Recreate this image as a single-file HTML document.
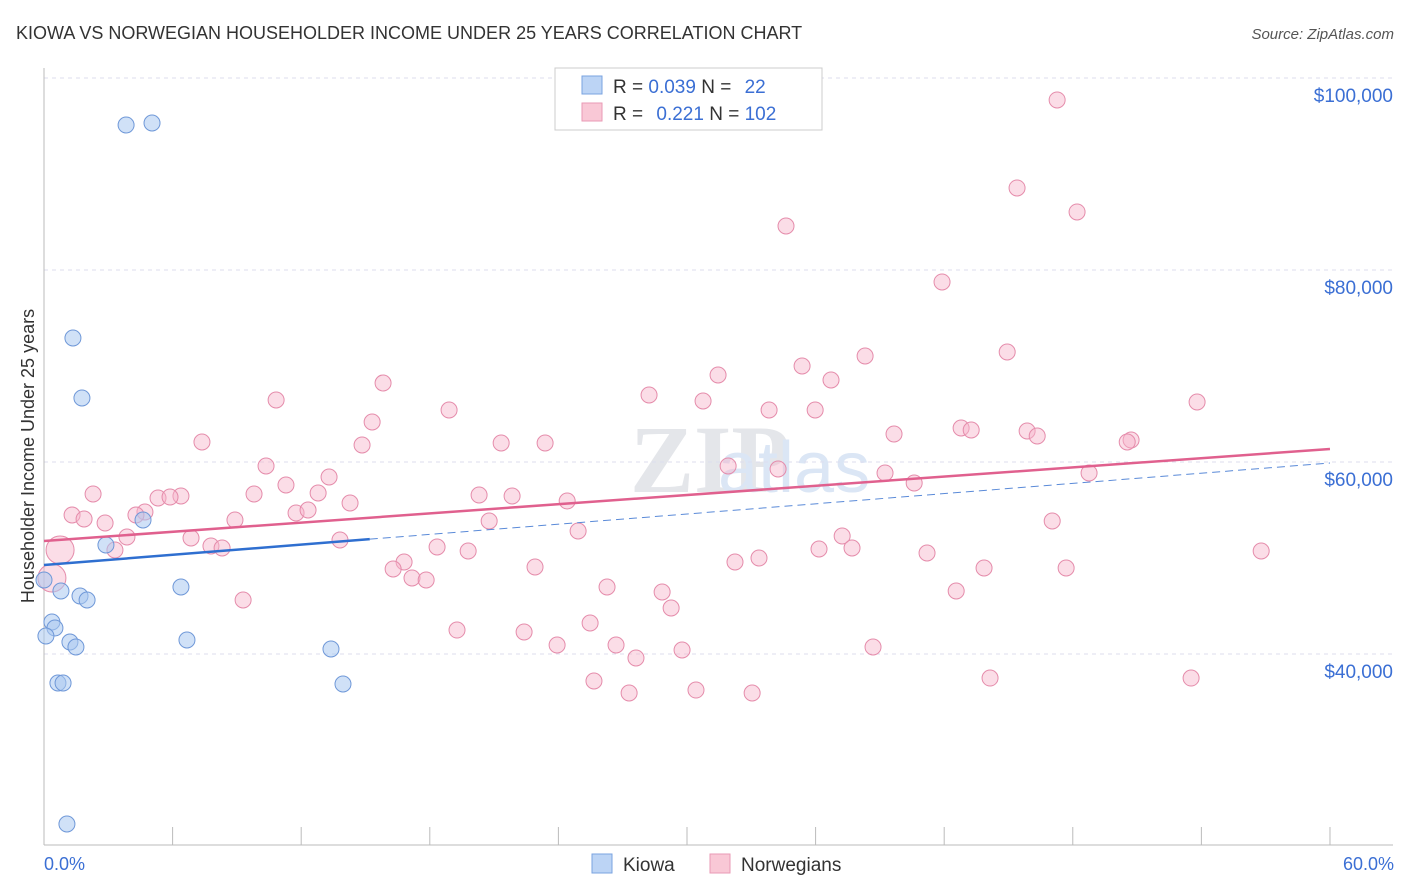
<!DOCTYPE html>
<html><head><meta charset="utf-8">
<style>
body{margin:0;background:#fff;font-family:"Liberation Sans",sans-serif;}
#c{position:relative;width:1406px;height:892px;overflow:hidden}
</style></head>
<body>
<div id="c">
<svg id="s" width="1406" height="892" xmlns="http://www.w3.org/2000/svg">
<text x="16" y="39" font-size="18" fill="#333">KIOWA VS NORWEGIAN HOUSEHOLDER INCOME UNDER 25 YEARS CORRELATION CHART</text>
<text x="1394" y="39" font-size="15" fill="#555" font-style="italic" text-anchor="end">Source: ZipAtlas.com</text>
<text x="630" y="492" font-size="96" fill="#e4e6ea" font-family="Liberation Serif" font-weight="bold">ZIP</text>
<text x="718" y="492" font-size="72" fill="#dbe6f5">atlas</text>
<g id="grid"></g>
<text transform="translate(34,456) rotate(-90)" font-size="18" fill="#333" text-anchor="middle">Householder Income Under 25 years</text>
<text x="44" y="870" font-size="18" fill="#3b6fd4">0.0%</text>
<text x="1394" y="870" font-size="18" fill="#3b6fd4" text-anchor="end">60.0%</text>
<g id="pts"></g>
<g id="lines"></g>
<g>
<rect x="555" y="68" width="267" height="62" fill="#fff" stroke="#ccc"/>
<rect x="582" y="76" width="20" height="18" fill="#bcd4f5" stroke="#7aa3e0"/>
<rect x="582" y="103" width="20" height="18" fill="#f9c8d6" stroke="#e99ab5"/>
<text x="613" y="93" font-size="19" fill="#333">R = <tspan fill="#3b6fd4">0.039</tspan>   N = <tspan fill="#3b6fd4" dx="8">22</tspan></text>
<text x="613" y="120" font-size="19" fill="#333">R = <tspan fill="#3b6fd4" dx="8">0.221</tspan>   N = <tspan fill="#3b6fd4">102</tspan></text>
</g>
<g>
<rect x="592" y="854" width="20" height="19" fill="#bcd4f5" stroke="#7aa3e0"/>
<text x="623" y="871" font-size="19" fill="#333">Kiowa</text>
<rect x="710" y="854" width="20" height="19" fill="#f9c8d6" stroke="#e99ab5"/>
<text x="741" y="871" font-size="19" fill="#333">Norwegians</text>
</g>
</svg>
</div>
<script>
const yTicks=[40000,60000,80000,100000];
const yTickLabels=["$40,000","$60,000","$80,000","$100,000"];
const kiowaX=[3.83,5.04,1.35,1.77,4.62,2.89,0,0.79,1.68,2.01,6.39,0.37,0.51,0.09,1.21,1.49,6.67,13.39,13.95,0.65,0.89,1.07];
const kiowaY=[95104,95313,72917,66667,53958,51354,47708,46563,46042,45625,46979,43333,42708,41875,41250,40729,41458,40521,36875,36979,22292,22292];
kiowaY[20]=36979;kiowaY[21]=22292;
const norPx=[[1057,100],[1017,188],[1077,212],[786,226],[942,282],[865,356],[1007,352],[802,366],[718,375],[831,380],[383,383],[276,400],[649,395],[703,401],[1197,402],[449,410],[769,410],[815,410],[372,422],[894,434],[961,428],[971,430],[1027,431],[1037,436],[1131,440],[1127,442],[202,442],[362,445],[501,443],[545,443],[728,466],[778,469],[266,466],[885,473],[1089,473],[329,477],[286,485],[914,483],[93,494],[158,498],[181,496],[170,497],[254,494],[318,493],[479,495],[512,496],[567,501],[350,503],[296,513],[308,510],[145,512],[136,515],[72,515],[84,519],[105,523],[235,520],[489,521],[1052,521],[578,531],[127,537],[191,538],[211,546],[222,548],[842,536],[340,540],[437,547],[468,551],[819,549],[852,548],[115,550],[60,550],[927,553],[759,558],[735,562],[404,562],[393,569],[535,567],[984,568],[1066,568],[1261,551],[412,578],[426,580],[607,587],[662,592],[671,608],[243,600],[956,591],[590,623],[457,630],[524,632],[557,645],[616,645],[682,650],[873,647],[636,658],[594,681],[629,693],[696,690],[752,693],[990,678],[1191,678],[52,578]];
const norX=norPx.map(p=>+((p[0]-44)/21.43).toFixed(2));
const norY=norPx.map(p=>Math.round(60000+(462-p[1])*104.17));
const kiowaLine=[49271,59896];
const norLine=[51771,61354];
const X=v=>44+v*21.433, Y=v=>462-(v-60000)*0.0096;
const ns="http://www.w3.org/2000/svg";
function mk(t,a,p){const e=document.createElementNS(ns,t);for(const k in a)e.setAttribute(k,a[k]);p.appendChild(e);return e;}
const g=document.getElementById('grid');
yTicks.forEach((t,i)=>{
 const l=mk('line',{x1:44,x2:1393,y1:Y(t),y2:Y(t),stroke:'#dde',"stroke-dasharray":'4,4'},g);
 
 
 const tx=mk('text',{x:1393,y:Y(t)+24,"font-size":19,fill:'#3b6fd4',"text-anchor":'end'},g);
 tx.textContent=yTickLabels[i];
 
 
});
mk('line',{x1:44,x2:1393,y1:Y(100000)-0,y2:Y(100000),stroke:'#dde',"stroke-dasharray":'4,4'},g);
const ax=mk('line',{x1:44,x2:44,y1:68,y2:845,stroke:'#bbb'},g);


const bx=mk('line',{x1:44,x2:1393,y1:845,y2:845,stroke:'#bbb'},g);


for(let i=0;i<=10;i++){const t=mk('line',{x1:X(i*6),x2:X(i*6),y1:827,y2:845,stroke:'#bbb'},g);
 
 }
const pg=document.getElementById('pts');
norX.forEach((x,i)=>{const big=(i>=norX.length-1||i===70);
 const c=mk('circle',{cx:X(x),cy:Y(norY[i]),r:big?14:8,fill:'rgba(246,180,202,0.45)',stroke:'#e58cab',"stroke-width":1},pg);
 
 });
kiowaX.forEach((x,i)=>{const c=mk('circle',{cx:X(x),cy:Y(kiowaY[i]),r:8,fill:'rgba(170,200,240,0.55)',stroke:'#6f98d8',"stroke-width":1},pg);
 
 });
const lg=document.getElementById('lines');
const ky=x=>kiowaLine[0]+(kiowaLine[1]-kiowaLine[0])*x/60;
const l1=mk('line',{x1:X(0),y1:Y(norLine[0]),x2:X(60),y2:Y(norLine[1]),stroke:'#e0608e',"stroke-width":2.5},lg);


const l2=mk('line',{x1:X(0),y1:Y(ky(0)),x2:X(15.2),y2:Y(ky(15.2)),stroke:'#2f6fd0',"stroke-width":2.5},lg);


const l3=mk('line',{x1:X(15.2),y1:Y(ky(15.2)),x2:X(60),y2:Y(ky(60)),stroke:'#5a8ad8',"stroke-width":1,"stroke-dasharray":'8,5'},lg);


</script>
</body></html>
